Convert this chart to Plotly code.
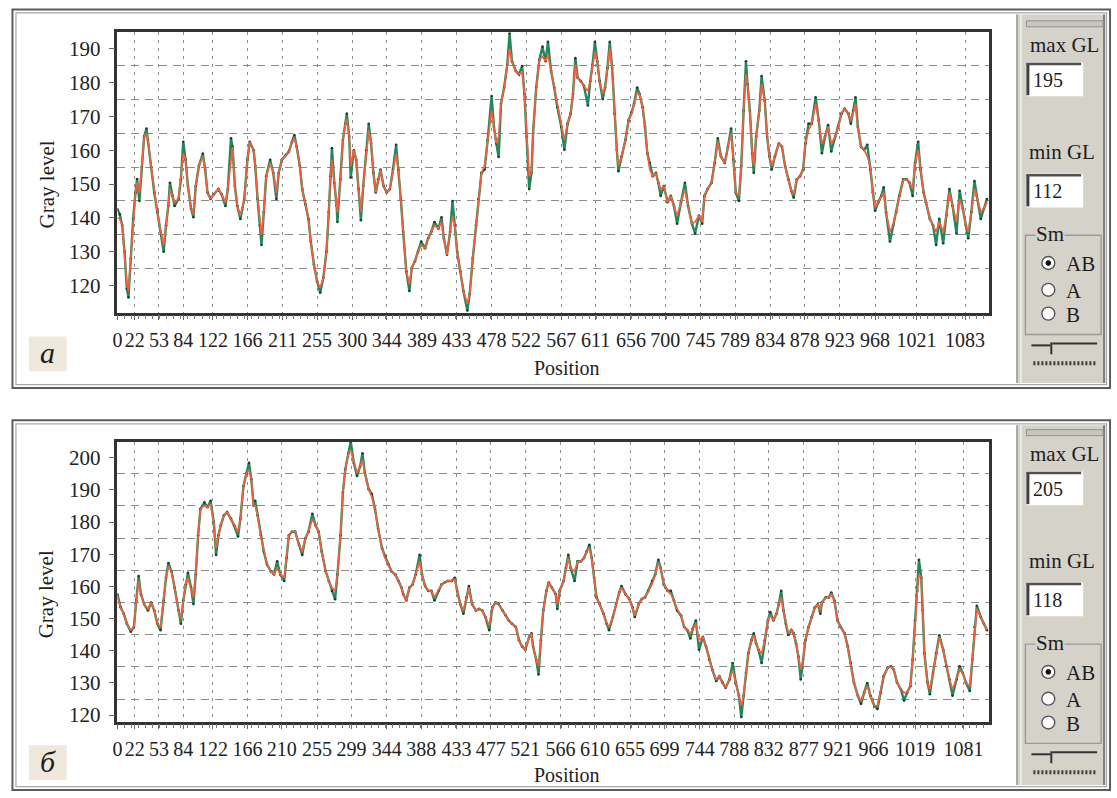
import plotly.graph_objects as go

W, H = 1117, 798
SERIF = "Liberation Serif, Times New Roman, serif"

# ---------------- profile (a) ----------------
A_MAX_GL, A_MIN_GL = 195, 112
A_TICKS = [0, 22, 53, 84, 122, 166, 211, 255, 300, 344, 389, 433, 478, 522, 567,
           611, 656, 700, 745, 789, 834, 878, 923, 968, 1021, 1083]
A_POS = [0, 3, 6, 9, 12, 14, 17, 20, 23, 25, 28, 31, 34, 37, 39, 43, 47, 51, 56, 59,
         62, 65, 67, 70, 73, 78, 81, 84, 87, 90, 94, 97, 100, 104, 109, 112, 115, 119, 123, 129,
         133, 138, 141, 145, 147, 150, 153, 157, 162, 166, 169, 174, 176, 179, 182, 184, 187, 190, 195, 199,
         203, 206, 210, 215, 219, 223, 226, 229, 233, 236, 240, 244, 247, 251, 255, 259, 263, 267, 270, 272,
         274, 277, 280, 281, 285, 288, 291, 293, 296, 298, 302, 305, 308, 311, 314, 318, 321, 324, 327, 330,
         333, 336, 340, 344, 348, 352, 356, 359, 362, 365, 369, 373, 376, 380, 384, 388, 393, 397, 401, 405,
         410, 414, 417, 421, 425, 428, 431, 434, 438, 442, 447, 450, 454, 458, 461, 465, 469, 473, 478, 481,
         484, 487, 490, 494, 498, 501, 504, 509, 513, 517, 520, 523, 526, 529, 531, 535, 539, 543, 547, 550,
         554, 558, 562, 567, 571, 575, 579, 582, 585, 588, 592, 596, 601, 604, 607, 610, 613, 616, 620, 623,
         626, 629, 632, 635, 638, 640, 644, 649, 653, 657, 660, 664, 667, 671, 674, 677, 680, 684, 688, 691,
         694, 698, 703, 707, 711, 715, 720, 725, 729, 734, 738, 743, 747, 750, 754, 759, 763, 767, 771, 776,
         780, 784, 787, 790, 794, 797, 800, 803, 805, 808, 811, 813, 816, 820, 823, 827, 830, 833, 836, 840,
         845, 849, 853, 857, 861, 864, 868, 872, 876, 879, 883, 887, 892, 896, 900, 904, 908, 912, 917, 921,
         925, 929, 934, 937, 940, 943, 946, 950, 954, 958, 962, 965, 968, 972, 976, 979, 982, 987, 991, 995,
         999, 1004, 1008, 1012, 1016, 1019, 1023, 1026, 1030, 1033, 1038, 1042, 1046, 1050, 1055, 1059, 1063, 1067, 1072, 1076,
         1080, 1084, 1087, 1091, 1095, 1098, 1103, 1107, 1111]
A_SMOOTH = [140.0, 139.7, 137.8, 130.0, 120.4, 118.4, 128.0, 139.7, 147.5, 150.4, 147.5, 155.0, 164.0, 165.0, 163.0, 155.0, 147.5, 141.7, 135.0, 132.0,
            137.8, 143.6, 148.5, 146.5, 144.6, 145.6, 151.4, 159.0, 157.2, 149.4, 142.7, 141.2, 149.4, 155.3, 158.2, 154.3, 147.5, 145.6, 147.0, 148.5,
            147.0, 144.6, 148.5, 157.2, 161.0, 149.4, 143.6, 140.7, 145.6, 157.2, 162.5, 160.0, 155.3, 145.6, 137.8, 135.0, 141.7, 152.3, 156.2, 153.3,
            147.5, 153.3, 157.2, 158.6, 159.6, 162.5, 163.5, 161.0, 155.3, 148.5, 144.1, 139.7, 133.0, 126.2, 121.3, 119.4, 122.3, 130.0, 141.7, 152.3,
            157.2, 150.4, 143.6, 141.7, 151.4, 163.0, 167.8, 169.3, 164.0, 155.3, 160.0, 157.2, 148.5, 141.7, 149.4, 160.0, 165.9, 162.0, 153.3, 147.5,
            151.4, 154.3, 149.4, 147.5, 148.5, 154.3, 159.0, 154.3, 145.6, 135.9, 124.2, 120.4, 125.2, 127.2, 130.0, 132.0, 131.0, 134.0, 135.9, 137.8,
            136.8, 138.8, 134.0, 129.1, 135.9, 140.7, 137.8, 130.0, 124.2, 118.4, 114.6, 117.5, 128.1, 137.8, 145.6, 153.3, 155.3, 163.0, 171.7, 166.9,
            162.0, 164.0, 173.7, 178.5, 185.3, 190.0, 186.3, 183.4, 182.4, 183.4, 176.6, 164.0, 152.3, 153.3, 165.0, 178.5, 186.7, 187.7, 186.3, 188.2,
            183.4, 178.5, 172.7, 166.9, 163.0, 167.8, 170.8, 176.6, 185.3, 181.4, 180.4, 179.0, 177.5, 180.4, 185.3, 189.2, 186.3, 180.4, 176.6, 178.5,
            184.3, 190.1, 184.3, 170.8, 160.1, 155.3, 158.2, 163.0, 168.8, 170.8, 173.7, 177.1, 176.6, 172.7, 166.9, 159.1, 154.3, 152.3, 153.3, 150.4,
            148.5, 149.4, 144.6, 146.5, 143.6, 140.7, 144.6, 148.5, 143.6, 138.3, 138.8, 140.7, 138.8, 146.5, 148.5, 150.4, 156.2, 162.5, 158.2, 156.2,
            161.0, 164.9, 157.2, 147.5, 146.5, 155.3, 171.7, 182.4, 179.5, 171.7, 159.1, 155.3, 164.0, 171.7, 179.5, 174.6, 164.0, 158.2, 155.3, 158.2,
            162.0, 161.0, 155.3, 151.4, 148.0, 147.0, 151.4, 152.3, 154.3, 162.0, 165.9, 167.8, 173.7, 168.8, 162.0, 164.0, 166.9, 162.0, 164.0, 166.9,
            170.8, 172.2, 170.8, 168.8, 171.7, 173.7, 166.9, 161.0, 160.1, 158.2, 155.3, 147.5, 143.1, 144.6, 146.5, 147.5, 141.7, 135.9, 137.8, 141.7,
            146.5, 151.4, 151.4, 150.4, 148.5, 156.2, 160.1, 154.3, 147.5, 144.6, 139.7, 137.8, 135.9, 138.8, 135.9, 140.7, 147.5, 143.6, 138.8, 145.6,
            142.7, 137.8, 135.9, 141.7, 148.5, 146.5, 141.7, 142.7, 144.6]
A_RAW = [142.5, 141.0, 137.8, 130.0, 119.0, 116.5, 128.0, 139.7, 147.5, 151.5, 145.0, 155.0, 164.0, 166.4, 163.0, 155.0, 147.5, 141.7, 135.0, 130.0,
         137.8, 143.6, 150.4, 146.5, 143.5, 145.6, 151.4, 162.5, 157.2, 149.4, 142.7, 140.2, 149.4, 155.3, 159.0, 154.3, 147.5, 145.6, 147.0, 148.5,
         147.0, 143.5, 148.5, 163.5, 161.0, 149.4, 143.6, 139.7, 145.6, 157.2, 162.5, 160.0, 155.3, 145.6, 137.8, 132.0, 141.7, 152.3, 157.2, 153.3,
         145.6, 153.3, 157.2, 158.6, 159.6, 162.5, 164.5, 161.0, 155.3, 148.5, 144.1, 139.7, 133.0, 126.2, 121.3, 117.9, 122.3, 130.0, 141.7, 152.3,
         160.6, 150.4, 143.6, 138.8, 151.4, 163.0, 167.8, 170.8, 164.0, 151.9, 160.0, 157.2, 148.5, 139.3, 149.4, 160.0, 167.8, 162.0, 153.3, 147.5,
         151.4, 154.3, 149.4, 147.5, 148.5, 154.3, 161.6, 154.3, 145.6, 135.9, 124.2, 118.4, 125.2, 127.2, 130.0, 133.0, 131.0, 134.0, 135.9, 138.8,
         136.8, 140.2, 134.0, 129.1, 135.9, 145.0, 137.8, 130.0, 124.2, 118.4, 112.6, 117.5, 128.1, 137.8, 145.6, 153.3, 154.3, 163.0, 176.0, 166.9,
         162.0, 158.0, 173.7, 178.5, 185.3, 194.5, 186.3, 183.4, 182.4, 184.9, 176.6, 164.0, 148.5, 153.3, 165.0, 178.5, 186.7, 190.6, 186.3, 192.0,
         183.4, 178.5, 172.7, 166.9, 160.1, 167.8, 170.8, 176.6, 187.2, 181.4, 180.4, 179.0, 173.2, 180.4, 185.3, 192.0, 186.3, 180.4, 175.1, 178.5,
         184.3, 192.0, 184.3, 170.8, 160.1, 153.8, 158.2, 163.0, 168.8, 171.2, 173.7, 178.5, 176.6, 172.7, 166.9, 159.1, 156.2, 152.3, 153.3, 150.4,
         146.5, 149.4, 144.6, 146.5, 143.6, 138.3, 144.6, 150.4, 143.6, 138.3, 135.4, 140.7, 138.3, 146.5, 148.5, 150.4, 156.2, 163.5, 158.2, 156.2,
         161.0, 166.4, 157.2, 147.5, 145.0, 155.3, 171.7, 186.3, 179.5, 171.7, 159.1, 153.3, 164.0, 171.7, 181.9, 174.6, 164.0, 158.2, 154.3, 158.2,
         162.0, 161.0, 155.3, 151.4, 148.0, 146.0, 151.4, 152.3, 154.3, 162.0, 167.8, 167.8, 175.6, 168.8, 159.1, 164.0, 167.4, 159.6, 164.0, 166.9,
         170.8, 172.2, 170.8, 167.8, 171.7, 175.6, 166.9, 161.0, 160.1, 161.6, 154.3, 147.5, 142.1, 144.6, 146.5, 149.0, 141.7, 133.0, 137.8, 141.7,
         146.5, 151.4, 151.4, 150.4, 146.5, 156.2, 162.5, 154.3, 147.5, 144.6, 139.7, 137.8, 132.0, 139.7, 132.5, 140.7, 148.5, 143.6, 135.4, 148.0,
         142.7, 137.8, 134.0, 141.7, 150.9, 146.5, 139.7, 142.7, 145.6]

# ---------------- profile (б) ----------------
B_MAX_GL, B_MIN_GL = 205, 118
B_TICKS = [0, 22, 53, 84, 122, 166, 210, 255, 299, 344, 388, 433, 477, 521, 566,
           610, 655, 699, 744, 788, 832, 877, 921, 966, 1019, 1081]
B_POS = [0, 4, 8, 12, 17, 21, 24, 27, 30, 34, 39, 43, 47, 51, 55, 59, 62, 65, 69, 73,
         78, 81, 84, 87, 90, 94, 97, 100, 103, 106, 111, 115, 119, 123, 126, 129, 132, 136, 140, 145,
         149, 154, 157, 161, 165, 168, 171, 174, 176, 179, 183, 187, 191, 196, 200, 204, 208, 213, 216, 219,
         223, 227, 232, 236, 240, 244, 249, 253, 257, 261, 266, 270, 274, 278, 281, 285, 288, 291, 295, 298,
         302, 306, 310, 313, 316, 321, 325, 329, 333, 338, 342, 346, 350, 355, 359, 363, 365, 369, 373, 377,
         381, 386, 389, 393, 397, 401, 405, 410, 414, 418, 422, 427, 431, 434, 438, 442, 446, 449, 453, 458,
         462, 466, 470, 475, 479, 483, 487, 492, 496, 500, 504, 509, 513, 517, 521, 526, 529, 531, 535, 538,
         541, 544, 548, 551, 555, 560, 562, 565, 570, 573, 576, 579, 584, 588, 592, 596, 599, 603, 606, 609,
         612, 616, 621, 625, 628, 633, 637, 641, 644, 649, 654, 658, 661, 666, 670, 674, 678, 683, 687, 691,
         694, 698, 703, 707, 711, 715, 720, 724, 728, 732, 735, 739, 743, 748, 752, 756, 760, 765, 769, 773,
         777, 782, 786, 790, 794, 797, 800, 803, 806, 810, 813, 816, 819, 823, 827, 831, 834, 838, 842, 845,
         848, 851, 854, 857, 861, 864, 867, 870, 873, 876, 879, 883, 887, 891, 895, 898, 900, 905, 909, 912,
         916, 920, 924, 929, 933, 937, 941, 946, 950, 954, 958, 962, 967, 971, 975, 979, 984, 988, 992, 996,
         1001, 1005, 1009, 1013, 1016, 1019, 1022, 1024, 1027, 1029, 1031, 1035, 1038, 1042, 1046, 1050, 1055, 1059, 1063, 1067,
         1072, 1076, 1080, 1084, 1089, 1092, 1095, 1098, 1103, 1107, 1111]
B_SMOOTH = [156.6, 153.5, 151.5, 148.4, 146.4, 147.4, 155.6, 161.7, 157.6, 154.5, 153.0, 155.0, 152.5, 148.4, 147.4, 155.6, 162.7, 166.3, 164.7, 159.6,
            152.5, 149.9, 155.6, 160.6, 162.7, 159.6, 156.6, 163.7, 175.9, 184.1, 185.1, 184.6, 185.6, 180.0, 171.9, 175.9, 179.0, 182.1, 183.1, 181.0,
            179.0, 177.0, 181.0, 191.2, 195.3, 196.3, 193.3, 185.1, 185.1, 182.1, 175.9, 170.8, 166.8, 164.7, 163.7, 165.7, 163.7, 162.7, 168.8, 175.9,
            177.0, 177.0, 172.9, 170.8, 174.9, 177.0, 181.0, 179.0, 177.0, 170.8, 164.7, 161.7, 159.6, 158.6, 163.7, 175.9, 189.2, 196.3, 201.4, 202.4,
            198.4, 195.3, 197.3, 199.4, 195.3, 190.2, 187.7, 184.1, 178.0, 171.9, 168.8, 166.8, 164.7, 163.7, 161.7, 159.6, 157.6, 155.6, 159.6, 160.6,
            163.7, 167.8, 163.7, 160.1, 158.6, 158.6, 156.6, 158.6, 160.6, 161.2, 161.7, 161.7, 162.2, 158.6, 154.5, 152.5, 156.6, 159.6, 154.5, 152.5,
            153.0, 152.5, 150.5, 147.9, 153.5, 155.0, 154.5, 152.5, 151.0, 149.4, 148.4, 147.4, 143.3, 141.3, 140.3, 144.3, 145.4, 141.3, 137.2, 135.2,
            143.3, 152.5, 158.6, 161.2, 159.6, 157.6, 154.5, 158.6, 161.7, 165.7, 168.8, 165.7, 164.7, 167.8, 167.8, 168.8, 170.8, 171.9, 168.8, 162.7,
            156.6, 154.5, 151.5, 148.4, 147.4, 150.5, 154.5, 158.1, 159.6, 157.6, 156.1, 153.5, 151.0, 154.5, 156.1, 156.6, 158.6, 160.6, 163.7, 167.3,
            165.7, 160.6, 158.6, 157.6, 155.6, 153.0, 151.0, 147.4, 146.4, 145.4, 146.8, 148.4, 143.3, 144.3, 141.3, 137.2, 134.1, 131.1, 132.1, 130.1,
            128.5, 131.1, 134.1, 130.1, 126.0, 122.9, 126.0, 133.1, 139.2, 143.3, 144.8, 142.3, 140.3, 139.2, 143.3, 149.4, 151.0, 149.4, 151.5, 154.5,
            156.6, 152.5, 148.4, 145.4, 146.4, 145.4, 142.3, 138.2, 134.1, 137.2, 143.3, 147.4, 150.5, 153.5, 154.5, 152.5, 155.0, 156.6, 156.6, 157.6,
            155.6, 149.4, 147.4, 145.4, 141.3, 136.2, 130.1, 126.0, 124.5, 127.0, 129.0, 126.0, 122.9, 122.9, 127.0, 132.1, 134.7, 135.2, 134.1, 130.1,
            128.0, 127.0, 127.0, 129.0, 137.2, 149.4, 158.6, 163.7, 162.7, 152.5, 139.2, 130.1, 128.0, 133.1, 139.2, 144.3, 140.3, 135.2, 131.1, 128.0,
            131.1, 134.1, 133.1, 130.1, 129.0, 137.2, 147.4, 153.0, 150.5, 148.4, 146.4]
B_RAW = [157.5, 153.5, 151.5, 148.4, 145.9, 147.4, 155.6, 163.2, 157.6, 154.5, 152.5, 155.0, 152.5, 148.4, 146.4, 155.6, 162.7, 167.3, 164.7, 159.6,
         152.5, 148.4, 155.6, 160.6, 164.2, 159.6, 154.5, 163.7, 175.9, 184.1, 186.1, 184.6, 186.6, 180.0, 169.8, 175.9, 179.0, 182.1, 183.1, 181.0,
         179.0, 175.5, 181.0, 191.2, 195.3, 198.4, 193.3, 185.1, 186.6, 182.1, 175.9, 170.8, 166.8, 164.7, 163.7, 167.8, 163.7, 161.7, 168.8, 175.9,
         177.0, 177.0, 172.9, 169.8, 174.9, 177.0, 182.6, 179.0, 177.0, 170.8, 164.7, 161.7, 158.6, 156.0, 163.7, 175.9, 189.2, 196.3, 201.4, 205.0,
         198.4, 194.3, 197.3, 201.4, 195.3, 190.2, 188.7, 184.1, 178.0, 171.9, 169.3, 166.8, 164.7, 163.7, 161.7, 159.6, 157.6, 155.6, 159.6, 160.6,
         163.7, 169.8, 163.7, 160.1, 158.6, 158.6, 155.6, 158.6, 160.6, 161.2, 161.7, 161.7, 162.7, 158.6, 154.5, 151.5, 156.6, 160.1, 154.5, 152.5,
         153.0, 152.5, 150.5, 146.4, 153.5, 155.0, 154.5, 152.5, 151.0, 149.4, 148.4, 147.4, 143.3, 141.3, 140.3, 144.3, 145.4, 141.3, 137.2, 132.6,
         143.3, 152.5, 158.6, 161.2, 159.6, 157.6, 153.0, 158.6, 161.7, 165.7, 169.8, 165.7, 161.7, 167.8, 167.8, 168.8, 170.8, 172.9, 168.8, 162.7,
         156.6, 154.5, 151.5, 148.4, 146.4, 150.5, 154.5, 158.1, 160.1, 157.6, 156.1, 153.5, 150.5, 154.5, 156.1, 156.6, 158.6, 161.7, 163.7, 168.3,
         165.7, 160.6, 158.6, 158.6, 155.6, 152.5, 151.0, 147.4, 146.4, 143.8, 146.8, 149.4, 140.3, 144.3, 141.3, 137.2, 134.1, 130.6, 132.1, 130.1,
         128.5, 131.1, 136.2, 130.1, 126.0, 119.4, 126.0, 133.1, 139.2, 143.3, 145.4, 142.3, 140.3, 136.2, 143.3, 149.4, 152.0, 149.4, 151.5, 154.5,
         158.6, 152.5, 148.4, 144.9, 146.4, 145.4, 142.3, 138.2, 131.1, 137.2, 143.3, 147.4, 150.5, 153.5, 154.5, 151.5, 155.0, 156.6, 156.6, 158.1,
         155.6, 149.4, 147.4, 145.4, 141.3, 136.2, 130.1, 126.0, 123.5, 127.0, 130.0, 126.0, 122.9, 121.9, 127.0, 132.1, 134.7, 135.2, 134.1, 130.1,
         128.0, 124.5, 127.0, 129.0, 137.2, 149.4, 158.6, 168.3, 162.7, 152.5, 139.2, 130.1, 126.5, 133.1, 139.2, 144.8, 140.3, 135.2, 131.1, 126.0,
         131.1, 135.2, 133.1, 130.1, 127.5, 137.2, 147.4, 154.0, 150.5, 148.4, 146.4]

X_MAX = 1113
GRID_A = list(range(125, 195, 10))
GRID_B = list(range(125, 205, 10))
Y_TICKS_A = list(range(120, 195, 10))
Y_TICKS_B = list(range(120, 205, 10))

RAW_COLOR = "#22875a"
SMOOTH_COLOR = "#f3603f"
PANEL_GRAY = "#d5d2ca"


def fx(x):
    return x / W


def fy(y):
    return 1 - y / H


fig = go.Figure()

for pos, raw, smooth, xa, ya in [(A_POS, A_RAW, A_SMOOTH, "x", "y"),
                                 (B_POS, B_RAW, B_SMOOTH, "x2", "y2")]:
    fig.add_trace(go.Scatter(x=pos, y=raw, mode="lines+markers", xaxis=xa, yaxis=ya,
                             line=dict(color=RAW_COLOR, width=2.4),
                             marker=dict(size=2.6, color="#1f3b2b"),
                             hoverinfo="skip", showlegend=False))
    fig.add_trace(go.Scatter(x=pos, y=smooth, mode="lines", xaxis=xa, yaxis=ya,
                             line=dict(color=SMOOTH_COLOR, width=1.7),
                             hoverinfo="skip", showlegend=False))


def xaxis_cfg(ticks, anchor):
    return dict(domain=[fx(113), fx(988)], range=[0, X_MAX], anchor=anchor,
                tickmode="array", tickvals=ticks, ticktext=[str(t) for t in ticks],
                showgrid=True, gridcolor="#8c8c8c", gridwidth=1.2, griddash="3px,5px",
                ticks="outside", ticklen=5, tickcolor="#666", ticklabelstandoff=3,
                tickfont=dict(family=SERIF, size=20, color="#222"),
                minor=dict(dtick=9, ticks="outside", ticklen=4, tickcolor="#777", showgrid=False),
                showline=True, mirror=True, linecolor="#333", linewidth=2.5,
                zeroline=False, fixedrange=True)


def yaxis_cfg(dom, lo, hi, ticks, grid, anchor):
    return dict(domain=dom, range=[lo, hi], anchor=anchor, tickmode="array", tickvals=ticks,
                showgrid=False, ticks="outside", ticklen=6, tickcolor="#666",
                ticklabelstandoff=4,
                tickfont=dict(family=SERIF, size=21, color="#222"),
                minor=dict(tickmode="array", tickvals=grid, showgrid=True, gridcolor="#8c8c8c",
                           gridwidth=1.2, griddash="8px,6px", ticks=""),
                showline=True, mirror=True, linecolor="#333", linewidth=2.5,
                zeroline=False, fixedrange=True)


fig.update_layout(
    width=W, height=H,
    margin=dict(l=0, r=0, t=0, b=0),
    paper_bgcolor="white", plot_bgcolor="white",
    font=dict(family=SERIF, color="#222"),
    xaxis=xaxis_cfg(A_TICKS, "y"),
    yaxis=yaxis_cfg([fy(315), fy(32)], A_MIN_GL, A_MAX_GL, Y_TICKS_A, GRID_A, "x"),
    xaxis2=xaxis_cfg(B_TICKS, "y2"),
    yaxis2=yaxis_cfg([fy(727), fy(445)], B_MIN_GL, B_MAX_GL, Y_TICKS_B, GRID_B, "x2"),
)

shapes = []
annotations = []


def rect(x0, y0, x1, y1, fill=None, line=None, width=1):
    shapes.append(dict(type="rect", xref="paper", yref="paper",
                       x0=fx(x0), y0=fy(y1), x1=fx(x1), y1=fy(y0),
                       fillcolor=fill if fill else "rgba(0,0,0,0)",
                       line=dict(color=line if line else "rgba(0,0,0,0)", width=width),
                       layer="above"))


def seg(x0, y0, x1, y1, color, width=1, dash=None):
    ln = dict(color=color, width=width)
    if dash:
        ln["dash"] = dash
    shapes.append(dict(type="line", xref="paper", yref="paper",
                       x0=fx(x0), y0=fy(y0), x1=fx(x1), y1=fy(y1), line=ln, layer="above"))


def circle(cx, cy, r, fill, line, width=1.2):
    shapes.append(dict(type="circle", xref="paper", yref="paper",
                       x0=fx(cx - r), y0=fy(cy + r), x1=fx(cx + r), y1=fy(cy - r),
                       fillcolor=fill, line=dict(color=line, width=width), layer="above"))


def text(x, y, s, size=21, xanchor="center", angle=0, italic=False, bg=None):
    fnt = dict(family=SERIF, size=size, color="#1e1e1e")
    if italic:
        fnt["style"] = "italic"
    annotations.append(dict(xref="paper", yref="paper", x=fx(x), y=fy(y), text=s,
                            showarrow=False, xanchor=xanchor, yanchor="middle",
                            textangle=angle, bgcolor=bg, borderpad=0, font=fnt))


def panel(f0, f1, d, letter, max_gl, min_gl, title_y, pos_y):
    # window frame
    rect(7.5, f0, 1110, f1, line="#5c5c5c", width=2)
    rect(11, f0 + 3.5, 1106.5, f1 - 3.5, line="#a9a9a9", width=1.2)
    # side control panel
    rect(1016, f0 + 5, 1105.5, f1 - 5, fill=PANEL_GRAY)
    seg(1016.5, f0 + 5, 1016.5, f1 - 5, "#9b9b9b", 1.5)
    seg(1020.5, f0 + 5, 1020.5, f1 - 5, "#f2f2f2", 1.5)
    seg(1104, f0 + 5, 1104, f1 - 5, "#7c7c7c", 2)
    rect(1026, 21 + d, 1103, 27 + d, fill="#c9c6bf", line="#8f8f8f", width=1)
    # max / min edit boxes
    text(1064, 45 + d, "max GL")
    for top, val in [(63 + d, max_gl), (175 + d, min_gl)]:
        rect(1026, top, 1083, top + 34, fill="white")
        seg(1027.5, top + 1, 1027.5, top + 33, "#3f3f3f", 3)
        seg(1026, top + 1.5, 1081, top + 1.5, "#505050", 2.5)
        text(1032, top + 17.5, str(val), size=20, xanchor="left")
    text(1062, 153 + d, "min GL")
    # smoothing group box
    rect(1025, 237 + d, 1101, 337 + d, line="#9a9a9a", width=1.4)
    text(1050, 236 + d, "Sm", bg=PANEL_GRAY)
    for cy, lab, sel in [(265 + d, "AB", True), (292 + d, "A", False), (316 + d, "B", False)]:
        circle(1048, cy, 6.5, "white", "#555555", 1.4)
        if sel:
            circle(1048, cy, 2.4, "#111111", "#111111", 1)
        text(1065, cy + 1, lab, xanchor="left")
    # slider
    seg(1031, 348 + d, 1050, 348 + d, "#333333", 2)
    seg(1051, 345 + d, 1051, 357 + d, "#333333", 2)
    seg(1052, 346 + d, 1097, 346 + d, "#333333", 2)
    seg(1033, 366 + d, 1097, 366 + d, "#3c3c3c", 4, dash="2px,2px")
    # panel letter
    rect(24, 339 + d, 62, 374 + d, fill="#efe8dc")
    text(43, 355 + d, letter, size=30, italic=True)
    # axis titles
    text(42, title_y, "Gray level", angle=-90)
    text(565, pos_y, "Position", size=20)


panel(9.5, 391, 0, "a", A_MAX_GL, A_MIN_GL, 186, 371)
panel(423.5, 796, 412, "б", B_MAX_GL, B_MIN_GL, 599, 781)

fig.update_layout(shapes=shapes, annotations=annotations)
fig.write_html("out.html")
